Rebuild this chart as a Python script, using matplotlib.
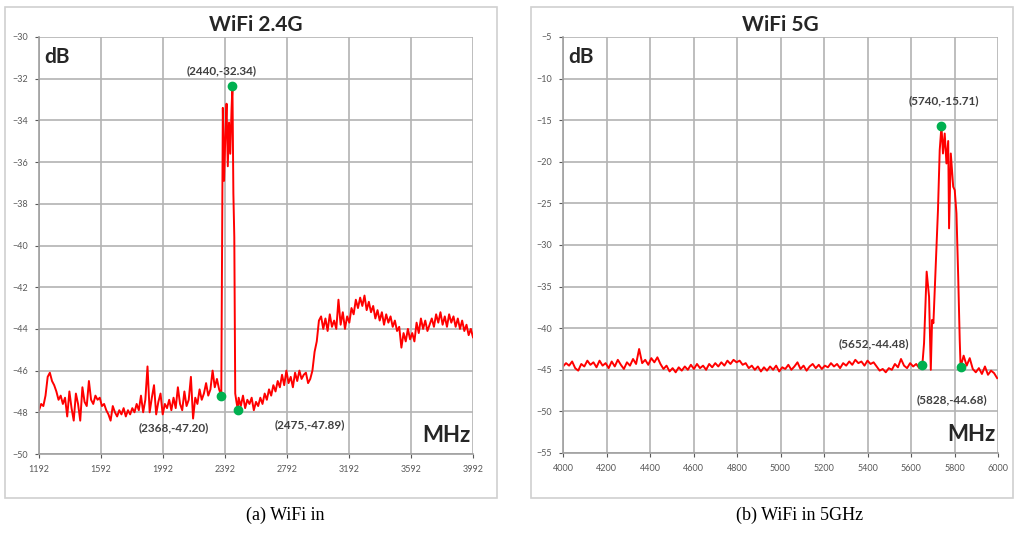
"""WiFi 2.4G / 5G spectrum plots."""
import numpy as np
import matplotlib.pyplot as plt
from matplotlib.patches import Rectangle

# ---- WiFi 2.4G data (MHz, dB) ----
freq_24_low = np.arange(1192, 2369, 14)
level_24_low = [
    -47.9, -47.6, -47.7, -47.2, -46.3, -46.1, -46.5, -46.7, -47.0, -47.4,
    -47.2, -47.6, -47.3, -48.2, -47.0, -47.8, -48.4, -47.1, -47.6, -48.4,
    -46.8, -47.5, -47.7, -46.5, -47.4, -47.6, -47.2, -47.4, -47.3, -47.7,
    -47.6, -47.9, -48.1, -48.4, -47.7, -48.0, -48.2, -47.9, -48.1, -47.8,
    -48.2, -47.9, -48.1, -47.8, -48.0, -47.6, -47.9, -47.2, -48.0, -47.4,
    -45.8, -48.0, -47.3, -46.7, -48.1, -47.5, -47.1, -48.1, -47.6, -47.8,
    -47.4, -47.9, -47.3, -47.8, -46.8, -47.6, -47.9, -47.0, -47.7, -47.4,
    -46.3, -48.3, -47.3, -47.6, -46.9, -47.4, -47.1, -46.6, -47.2, -46.9,
    -46.0, -46.8, -46.4, -46.9, -47.20,
]
freq_24_peak = [2378, 2386, 2394, 2402, 2410, 2418, 2426, 2434, 2440,
                2446, 2452, 2458, 2466, 2475]
level_24_peak = [-33.4, -36.9, -34.8, -33.2, -36.2, -34.1, -35.6, -33.5,
                 -32.34, -37.5, -39.6, -47.1, -47.5, -47.89]
freq_24_high = np.arange(2480, 3993, 14)
level_24_high = [
    -47.3, -47.7, -47.2, -47.8, -47.4, -47.6, -47.3, -47.9, -47.5, -47.7,
    -47.3, -47.6, -47.1, -47.4, -46.9, -47.2, -46.7, -47.0, -46.5, -46.8,
    -46.2, -46.7, -46.0, -46.6, -46.3, -46.8, -46.1, -46.5, -46.0, -46.4,
    -46.2, -46.1, -46.6, -46.4, -46.0, -45.1, -44.6, -43.6, -43.4, -44.0,
    -43.5, -44.1, -43.3, -43.9, -43.6, -44.0, -42.6, -43.8, -43.2, -44.0,
    -43.4, -43.7, -43.0, -43.3, -42.6, -43.0, -42.5, -42.9, -42.4, -43.1,
    -42.7, -43.2, -42.9, -43.5, -43.1, -43.6, -43.2, -43.8, -43.3, -43.7,
    -43.4, -43.9, -43.6, -44.1, -43.9, -44.9, -44.2, -44.6, -44.0, -44.5,
    -44.2, -44.6, -43.7, -44.2, -43.5, -44.0, -43.6, -44.1, -43.8, -43.5,
    -43.9, -43.3, -43.7, -43.2, -43.8, -43.4, -43.9, -43.3, -43.7, -43.4,
    -43.9, -43.5, -44.0, -43.6, -44.1, -43.8, -44.3, -44.0, -44.4,
]
marks_24_f = [2368, 2440, 2475]
marks_24_v = [-47.20, -32.34, -47.89]

# ---- WiFi 5G data (MHz, dB) ----
freq_5_low = np.arange(4000, 5653, 14)
level_5_low = [
    -44.6, -44.2, -44.5, -44.0, -44.8, -45.1, -44.3, -44.6, -43.9, -44.4,
    -44.1, -44.7, -43.9, -44.5, -44.2, -44.8, -44.0, -44.6, -43.8, -44.4,
    -44.9, -44.1, -44.5, -43.7, -44.3, -42.5, -44.2, -43.8, -44.4, -43.6,
    -44.1, -43.5, -44.3, -44.9, -44.5, -45.2, -44.8, -45.3, -44.7, -45.1,
    -44.6, -45.0, -44.4, -44.9, -44.3, -44.8, -44.5, -45.0, -44.3, -44.7,
    -44.2, -44.6, -44.1, -44.5, -43.9, -44.3, -43.8, -44.1, -43.9, -44.4,
    -44.2, -44.8, -44.5, -45.0, -44.6, -45.2, -44.7, -45.1, -44.6, -45.0,
    -44.5, -45.2, -44.7, -44.9, -44.4, -45.0, -44.6, -44.1, -44.9, -44.5,
    -45.1, -44.6, -44.3, -44.8, -44.4, -44.9, -44.5, -44.7, -44.2, -44.6,
    -44.3, -44.8, -44.2, -44.5, -44.0, -44.4, -43.8, -44.2, -44.0, -44.5,
    -43.9, -44.3, -44.1, -44.6, -45.1, -44.9, -45.3, -44.8, -45.0, -44.3,
    -44.7, -43.7, -44.5, -44.8, -44.2, -44.6, -44.3, -44.8, -44.48,
]
freq_5_peak = [5660, 5672, 5683, 5691, 5697, 5703, 5714, 5724, 5732, 5740,
               5747, 5755, 5763, 5771, 5775, 5783, 5794, 5801, 5809, 5817,
               5824, 5828]
level_5_peak = [-41.8, -33.2, -36.2, -45.0, -39.0, -39.4, -32.2, -25.8,
                -18.6, -15.71, -19.0, -16.6, -20.2, -17.5, -28.0, -19.0,
                -23.0, -23.4, -26.2, -33.8, -41.4, -44.68]
freq_5_high = np.arange(5842, 6000, 14)
level_5_high = [-43.3, -44.5, -43.6, -44.9, -45.3, -44.8, -45.5, -44.6,
                -45.6, -45.1, -45.4, -46.0]
marks_5_f = [5652, 5740, 5828]
marks_5_v = [-44.48, -15.71, -44.68]

RED = "#ff0000"
GREEN = "#00b050"
GRID = "#b3b3b3"
TICK = "#595959"
LABEL = "#404040"


def style_axes(ax, xlim, ylim, xticks, yticks):
    ax.set_xlim(*xlim)
    ax.set_ylim(*ylim)
    ax.set_xticks(xticks)
    ax.set_yticks(yticks)
    ax.grid(True, color=GRID, linewidth=1.2)
    ax.set_axisbelow(True)
    for side in ["top", "right"]:
        ax.spines[side].set_visible(False)
    for side in ["left", "bottom"]:
        ax.spines[side].set_color("#a0a0a0")
        ax.spines[side].set_linewidth(1.2)
    ax.tick_params(labelsize=6.5, colors=TICK, length=3, width=0.8,
                   pad=5)
    ax.patch.set_alpha(0)


def main():
    plt.rcParams["font.family"] = ["Lato", "DejaVu Sans"]
    fig = plt.figure(figsize=(10.15, 5.37), dpi=100)

    # chart frames
    for x0, w in [(5, 492), (531, 482)]:
        fig.patches.append(Rectangle((x0 / 1015, 1 - 498 / 537), w / 1015,
                                     491 / 537, transform=fig.transFigure,
                                     fill=False, edgecolor="#d0d0d0",
                                     linewidth=1.2))

    # ---- left: 2.4G ----
    ax1 = fig.add_axes([39 / 1015, 1 - 454 / 537, 434 / 1015, 417 / 537])
    f24 = np.concatenate([freq_24_low, freq_24_peak, freq_24_high])
    v24 = np.concatenate([level_24_low, level_24_peak, level_24_high])
    ax1.plot(f24, v24, color=RED, linewidth=1.4)
    ax1.plot(marks_24_f, marks_24_v, "o", color=GREEN, markersize=6,
             zorder=5)
    style_axes(ax1, (1192, 3992), (-50, -30), np.arange(1192, 3993, 400),
               np.arange(-50, -29, 2))
    ax1.text(0.5, 1.005, "WiFi 2.4G", transform=ax1.transAxes,
             ha="center", va="bottom", fontsize=15, fontweight="bold",
             color="#262626")
    ax1.text(0.012, 0.975, "dB", transform=ax1.transAxes, ha="left",
             va="top", fontsize=15, fontweight="bold", color="#262626")
    ax1.text(0.995, 0.02, "MHz", transform=ax1.transAxes, ha="right",
             va="bottom", fontsize=16, fontweight="bold", color="#262626")
    ax1.text(2370, -31.6, "(2440,-32.34)", ha="center", va="center",
             fontsize=8.5, fontweight="bold", color=LABEL)
    ax1.text(2060, -48.75, "(2368,-47.20)", ha="center", va="center",
             fontsize=8.5, fontweight="bold", color=LABEL)
    ax1.text(2940, -48.6, "(2475,-47.89)", ha="center", va="center",
             fontsize=8.5, fontweight="bold", color=LABEL)

    # ---- right: 5G ----
    ax2 = fig.add_axes([563 / 1015, 1 - 453 / 537, 435 / 1015, 416 / 537])
    f5 = np.concatenate([freq_5_low, freq_5_peak, freq_5_high])
    v5 = np.concatenate([level_5_low, level_5_peak, level_5_high])
    ax2.plot(f5, v5, color=RED, linewidth=1.4)
    ax2.plot(marks_5_f, marks_5_v, "o", color=GREEN, markersize=6, zorder=5)
    style_axes(ax2, (4000, 6000), (-55, -5), np.arange(4000, 6001, 200),
               np.arange(-55, -4, 5))
    ax2.text(0.5, 1.005, "WiFi 5G", transform=ax2.transAxes,
             ha="center", va="bottom", fontsize=15, fontweight="bold",
             color="#262626")
    ax2.text(0.012, 0.975, "dB", transform=ax2.transAxes, ha="left",
             va="top", fontsize=15, fontweight="bold", color="#262626")
    ax2.text(0.995, 0.02, "MHz", transform=ax2.transAxes, ha="right",
             va="bottom", fontsize=16, fontweight="bold", color="#262626")
    ax2.text(5750, -12.6, "(5740,-15.71)", ha="center", va="center",
             fontsize=8.5, fontweight="bold", color=LABEL)
    ax2.text(5430, -41.9, "(5652,-44.48)", ha="center", va="center",
             fontsize=8.5, fontweight="bold", color=LABEL)
    ax2.text(5790, -48.6, "(5828,-44.68)", ha="center", va="center",
             fontsize=8.5, fontweight="bold", color=LABEL)

    # captions
    fig.text(285 / 1015, 1 - 515 / 537, "(a) WiFi in", ha="center",
             va="center", fontsize=13, family="Liberation Serif")
    fig.text(800 / 1015, 1 - 515 / 537, "(b) WiFi in 5GHz", ha="center",
             va="center", fontsize=13, family="Liberation Serif")

    fig.savefig("out.png", dpi=100)


if __name__ == "__main__":
    main()
